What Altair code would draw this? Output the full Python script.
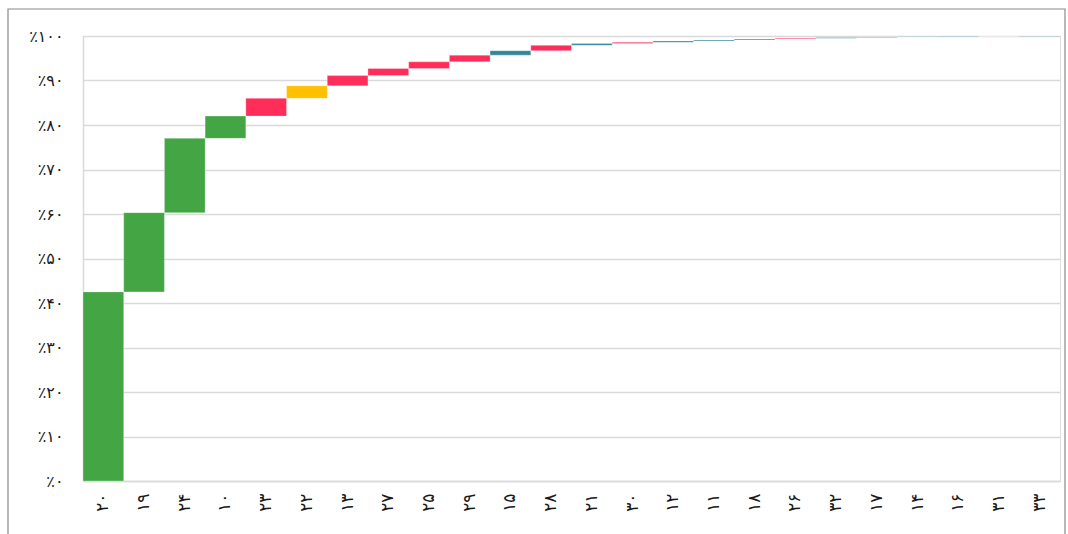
import altair as alt
import pandas as pd

# Categories in display order (Persian digits)
categories = ["۲۰", "۱۹", "۲۴", "۱۰", "۲۳", "۲۲", "۱۳", "۲۷", "۲۵", "۲۹", "۱۵", "۲۸",
              "۲۱", "۳۰", "۱۲", "۱۱", "۱۸", "۲۶", "۳۲", "۱۷", "۱۴", "۱۶", "۳۱", "۳۳"]
# Share of each category, in percent
shares = [42.5, 17.8, 16.7, 5.0, 4.0, 2.8, 2.3, 1.6, 1.5, 1.5, 1.0, 1.2,
          0.4, 0.3, 0.3, 0.2, 0.2, 0.2, 0.15, 0.1, 0.1, 0.07, 0.05, 0.03]
# Colour class of each category
groups = ["g", "g", "g", "g", "r", "y", "r", "r", "r", "r", "t", "r",
          "t", "r", "t", "t", "t", "r", "t", "t", "t", "t", "t", "t"]

group_domain = ["g", "r", "y", "t"]
group_colors = ["#43A543", "#FF2D5A", "#FFC000", "#2F8799"]

y_ticks = [0, 10, 20, 30, 40, 50, 60, 70, 80, 90, 100]

df = pd.DataFrame({"cat": categories, "share": shares, "group": groups})
df["end"] = df["share"].cumsum()
df["start"] = df["end"] - df["share"]

# Persian-digit label expression for the percent axis
fa_digits = "۰۱۲۳۴۵۶۷۸۹"
expr = "toString(datum.value)"
for i, d in enumerate(fa_digits):
    expr = f"replace({expr}, regexp('{i}', 'g'), '{d}')"
label_expr = f"'٪' + {expr}"

W, H = 977, 445

bars = alt.Chart(df).mark_bar(stroke="#ffffff", strokeWidth=0.6, strokeOpacity=0.5).encode(
    x=alt.X("cat:N", sort=categories,
            scale=alt.Scale(paddingInner=0, paddingOuter=0),
            axis=alt.Axis(title=None, labelAngle=-90, labelAlign="right", labelBaseline="middle",
                          labelFontSize=17, labelPadding=12, labelColor="#1a1a1a",
                          ticks=False, domainColor="#D9D9D9", domainWidth=1.5,
                          labelFont="DejaVu Sans")),
    y=alt.Y("start:Q", scale=alt.Scale(domain=[0, 100], nice=False),
            axis=alt.Axis(title=None, values=y_ticks, labelExpr=label_expr,
                          labelFontSize=16, labelPadding=20, labelColor="#1a1a1a",
                          ticks=False, grid=True, gridColor="#D9D9D9", gridWidth=1.5,
                          domainColor="#D9D9D9", domainWidth=1.5,
                          labelFont="DejaVu Sans")),
    y2="end:Q",
    color=alt.Color("group:N", scale=alt.Scale(domain=group_domain, range=group_colors),
                    legend=None),
)

frame = alt.Chart(pd.DataFrame({"k": [0]})).mark_rect(
    fill=None, stroke="#8a8a8a", strokeWidth=1.2
).encode(
    x=alt.value(-75), x2=alt.value(W + 5),
    y=alt.value(-27), y2=alt.value(H + 70),
)

chart = alt.layer(frame, bars).properties(
    width=W, height=H,
    autosize=alt.AutoSizeParams(type="none"),
    padding={"left": 83, "top": 36, "right": 8, "bottom": 53},
).configure_view(strokeWidth=0).configure(background="#ffffff")

chart.save("out.html", embed_options={"renderer": "svg", "actions": False})
